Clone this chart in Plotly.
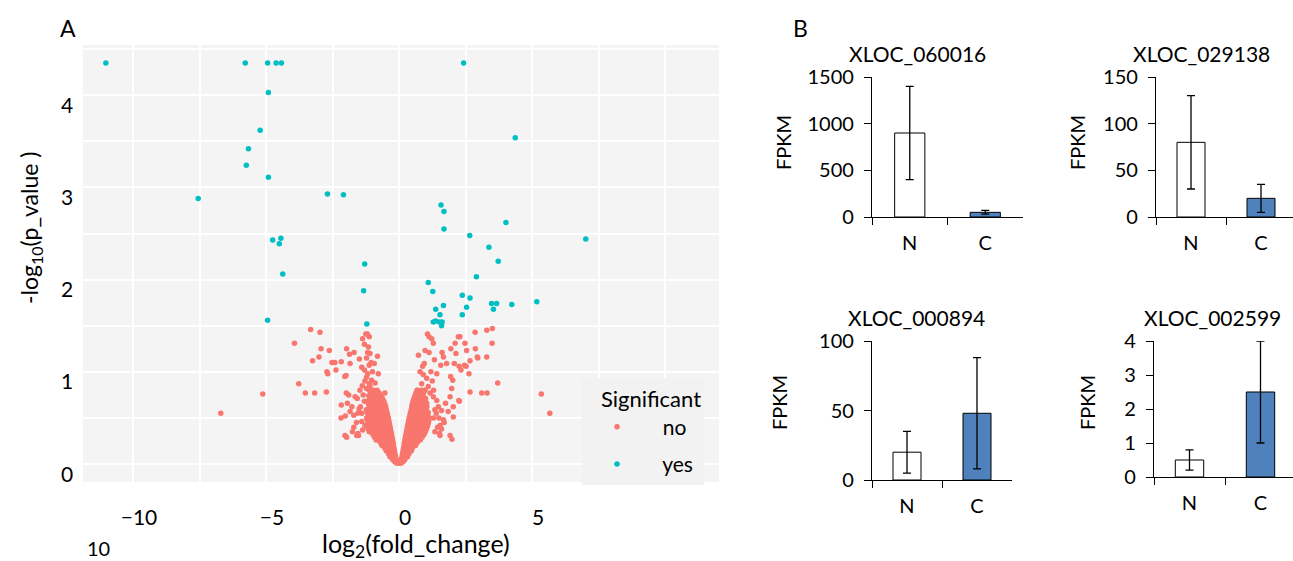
import plotly.graph_objects as go

W, H = 1293, 561

# ---------------- panel A: volcano plot ----------------
# significant genes: log2(fold_change), -log10(p_value)
sig_x = [-11.02, -5.78, -4.94, -4.62, -4.42, 2.43,
         -4.91, -5.22, 4.37, -5.66, -5.74, -4.91,
         -7.55, -2.69, -2.09, 1.58, 1.69, 1.69, 4.02,
         -4.75, -4.44, -4.50, 2.66, 7.02, 3.38, 3.73,
         -1.29, -4.37, 2.91, 1.10, 1.27, -1.33,
         2.38, 2.67, 3.48, 3.67, 3.55, 4.24, 5.18,
         1.67, 1.38, 2.54, 1.54, 2.38,
         1.29, 1.38, 1.52, 1.62, 1.60, -4.94, -1.21]
sig_y = [4.35, 4.35, 4.35, 4.35, 4.35, 4.35,
         4.03, 3.62, 3.54, 3.42, 3.24, 3.11,
         2.88, 2.93, 2.92, 2.81, 2.74, 2.55, 2.62,
         2.43, 2.45, 2.39, 2.48, 2.44, 2.35, 2.20,
         2.17, 2.06, 2.03, 1.97, 1.87, 1.88,
         1.83, 1.80, 1.74, 1.74, 1.68, 1.73, 1.76,
         1.72, 1.68, 1.70, 1.62, 1.62,
         1.54, 1.55, 1.54, 1.54, 1.50, 1.56, 1.52]

# non-significant genes, scattered ones (x, y)
no_scatter = [
    (-6.70, 0.55), (-5.12, 0.76), (-3.32, 1.46), (-2.97, 1.43), (-3.93, 1.31),
    (-2.93, 1.25), (-2.62, 1.23), (-3.25, 1.12), (-3.01, 1.16), (-2.49, 1.10),
    (-2.41, 1.10), (-2.17, 1.11), (-2.68, 0.98), (-2.37, 1.02), (-1.97, 1.25),
    (-1.69, 1.21), (-1.84, 1.09), (-1.49, 1.14), (-3.77, 0.87), (-3.52, 0.77),
    (-3.17, 0.77), (-2.73, 0.78), (-1.99, 0.96), (-2.04, 0.95), (-1.98, 0.77),
    (-1.89, 0.75), (-2.17, 0.64), (-1.94, 0.66), (-1.77, 0.62), (-2.18, 0.50),
    (-2.02, 0.52), (-1.84, 0.57), (-1.70, 0.53), (-1.55, 0.55), (-2.03, 0.31),
    (-1.97, 0.29), (-1.59, 0.31), (-1.52, 0.31), (-1.65, 0.73), (-1.57, 0.71),
    (-1.47, 0.80), (-1.38, 0.85), (-1.22, 0.82), (-1.09, 0.85), (-0.78, 0.98),
    (-0.93, 1.09), (-1.12, 1.07), (-0.81, 1.17), (-1.15, 1.27), (-1.18, 1.21),
    (-1.09, 1.20), (-1.19, 1.41), (-1.12, 1.38), (-1.37, 1.36), (-1.25, 1.41),
    (-1.30, 1.02), (-1.18, 0.98), (-1.22, 0.94), (-1.03, 0.91), (-1.12, 0.87),
    (-0.96, 0.80), (-0.84, 0.77), (-0.71, 0.73), (-0.53, 0.77), (-0.61, 0.67),
    (-1.40, 0.46), (-1.37, 0.37), (-1.28, 0.42), (-1.30, 1.30), (-1.22, 1.15),
    (-1.05, 1.10), (-1.40, 1.05), (-1.00, 1.00), (-0.90, 0.88), (-1.28, 0.90),
    (-1.35, 0.75), (-1.30, 0.68), (-1.45, 0.62), (-1.40, 0.55), (-2.71, 1.00),
    (-2.52, 1.10), (-1.86, 1.19), (-1.55, 0.33), (-1.60, 0.45), (-1.70, 0.40),
    (-1.50, 0.60), (-1.75, 0.35),
    (5.35, 0.76), (5.67, 0.55), (1.07, 1.41), (1.13, 1.38), (1.23, 1.36),
    (1.29, 1.31), (0.98, 1.23), (1.13, 1.21), (0.73, 1.18), (1.33, 1.13),
    (0.95, 1.09), (1.62, 1.21), (1.67, 1.16), (2.23, 1.38), (2.11, 1.31),
    (1.95, 1.25), (2.86, 1.43), (3.30, 1.45), (3.51, 1.47), (3.50, 1.31),
    (2.54, 1.23), (2.87, 1.25), (2.96, 1.15), (2.67, 1.12), (3.30, 1.16),
    (1.79, 1.09), (2.08, 1.09), (2.26, 1.06), (2.33, 1.02), (2.46, 1.07),
    (2.63, 0.98), (1.94, 0.95), (2.02, 0.91), (1.57, 1.07), (1.42, 0.98),
    (3.71, 0.88), (2.67, 0.78), (3.11, 0.77), (3.31, 0.77), (1.98, 0.82),
    (1.92, 0.73), (1.75, 0.66), (2.27, 0.68), (2.04, 0.62), (1.85, 0.57),
    (2.04, 0.51), (1.67, 0.48), (1.92, 0.31), (1.99, 0.27), (1.54, 0.31),
    (0.79, 1.00), (0.91, 0.97), (1.04, 0.93), (0.85, 0.87), (1.10, 0.84),
    (0.98, 0.80), (1.17, 0.77), (1.29, 0.73), (1.42, 0.69), (1.48, 0.62),
    (1.35, 0.59), (1.04, 0.66), (0.89, 1.06), (0.74, 0.73), (0.69, 0.80),
    (1.20, 1.00), (1.25, 0.90), (1.30, 0.80), (1.40, 0.55), (1.50, 0.50),
    (1.30, 0.50), (1.45, 0.40), (1.55, 0.42), (2.29, 1.38), (2.48, 1.31),
    (2.14, 1.20), (2.94, 1.16), (2.52, 1.06), (2.25, 0.69), (1.52, 0.33),
    (1.60, 0.58), (1.70, 0.45), (1.35, 0.35), (1.60, 0.38),
]

# non-significant genes, dense V core: (-log10 p, [log2 fc values on that row])
no_core_rows = [
    (0.01, [-0.10, -0.05, 0.00, 0.04, 0.09]),
    (0.03, [-0.18, -0.13, -0.06, 0.06, 0.12, 0.17]),
    (0.05, [-0.24, -0.17, -0.10, 0.08, 0.15, 0.22]),
    (0.08, [-0.34, -0.28, -0.20, -0.13, 0.11, 0.18, 0.26, 0.32]),
    (0.11, [-0.39, -0.31, -0.23, -0.15, 0.13, 0.21, 0.30, 0.37]),
    (0.14, [-0.48, -0.41, -0.33, -0.25, -0.17, 0.15, 0.23, 0.31, 0.40, 0.46]),
    (0.17, [-0.53, -0.44, -0.36, -0.27, -0.19, 0.17, 0.26, 0.34, 0.43, 0.50]),
    (0.20, [-0.64, -0.57, -0.48, -0.39, -0.30, -0.21, 0.19, 0.28, 0.37, 0.46, 0.55, 0.62]),
    (0.23, [-0.70, -0.61, -0.52, -0.42, -0.32, -0.22, 0.20, 0.30, 0.40, 0.50, 0.60, 0.68]),
    (0.26, [-0.86, -0.76, -0.66, -0.55, -0.45, -0.34, -0.24, 0.22, 0.32, 0.42, 0.53, 0.63, 0.72, 0.80]),
    (0.29, [-0.92, -0.80, -0.69, -0.58, -0.47, -0.36, -0.26, 0.24, 0.35, 0.45, 0.56, 0.67, 0.78, 0.87]),
    (0.32, [-0.98, -0.85, -0.73, -0.61, -0.50, -0.39, -0.28, 0.26, 0.37, 0.48, 0.60, 0.71, 0.83, 0.94]),
    (0.35, [-1.12, -1.03, -0.90, -0.77, -0.65, -0.53, -0.41, -0.30, 0.28, 0.40, 0.51, 0.63, 0.75, 0.88, 0.99]),
    (0.38, [-1.16, -1.06, -0.93, -0.80, -0.68, -0.56, -0.44, -0.32, 0.30, 0.42, 0.54, 0.66, 0.79, 0.92, 1.03]),
    (0.41, [-1.20, -1.10, -0.97, -0.84, -0.71, -0.58, -0.46, -0.34, 0.32, 0.44, 0.57, 0.70, 0.82, 0.95, 1.07]),
    (0.44, [-1.12, -1.00, -0.88, -0.75, -0.62, -0.49, -0.36, 0.34, 0.47, 0.60, 0.73, 0.86, 0.98, 1.10]),
    (0.47, [-1.18, -1.06, -0.93, -0.80, -0.66, -0.52, -0.38, 0.36, 0.50, 0.64, 0.77, 0.90, 1.02, 1.12]),
    (0.50, [-1.22, -1.10, -0.98, -0.85, -0.70, -0.55, -0.40, 0.38, 0.52, 0.67, 0.81, 0.94, 1.05, 1.15]),
    (0.53, [-1.15, -1.02, -0.88, -0.73, -0.58, -0.43, 0.41, 0.56, 0.70, 0.84, 0.97, 1.08]),
    (0.56, [-1.20, -1.06, -0.92, -0.76, -0.60, -0.45, 0.43, 0.58, 0.73, 0.87, 1.00, 1.10]),
    (0.59, [-1.23, -1.10, -0.95, -0.80, -0.63, -0.48, 0.46, 0.61, 0.76, 0.90, 1.03]),
    (0.62, [-1.12, -0.98, -0.82, -0.66, -0.50, 0.48, 0.63, 0.79, 0.93, 1.05]),
    (0.65, [-1.15, -1.01, -0.86, -0.70, -0.53, 0.50, 0.66, 0.82, 0.96]),
    (0.68, [-1.18, -1.05, -0.90, -0.74, -0.57, 0.53, 0.69, 0.85, 0.98]),
    (0.71, [-1.10, -0.95, -0.80, -0.62, 0.56, 0.72, 0.88, 1.00]),
    (0.74, [-1.14, -1.00, -0.86, -0.68, 0.60, 0.76, 0.90]),
    (0.77, [-1.06, -0.92, -0.75, 0.64, 0.80, 0.92]),
    (0.80, [-1.12, -0.98, -0.82, 0.68, 0.84, 0.95]),
]

volcano_xticks = [-10, -5, 0, 5]
volcano_yticks = [0, 1, 2, 3, 4]

no_x = [p[0] for p in no_scatter]
no_y = [p[1] for p in no_scatter]
for yv, xs in no_core_rows:
    no_x += xs
    no_y += [yv] * len(xs)

# ---------------- panel B: FPKM bar charts ----------------
genes = ["XLOC_060016", "XLOC_029138", "XLOC_000894", "XLOC_002599"]
groups = ["N", "C"]
fpkm_mean = [[900, 50], [80, 20], [20, 48], [0.5, 2.5]]
fpkm_err = [[500, 20], [50, 15], [15, 40], [0.3, 1.5]]
fpkm_max = [1500, 150, 100, 4]
fpkm_dtick = [500, 50, 50, 1]


def fx(px):
    return px / W


def fy(py):
    return 1 - py / H


fig = go.Figure()

fig.add_trace(go.Scatter(x=no_x, y=no_y, mode="markers", name="&nbsp;&nbsp;no",
                         legendgroup="no", marker=dict(color="#F8766D", size=5.5)))
fig.add_trace(go.Scatter(x=sig_x, y=sig_y, mode="markers", name="&nbsp;&nbsp;yes",
                         legendgroup="yes", marker=dict(color="#00BFC4", size=5.5)))

grid = dict(showgrid=True, gridcolor="white", gridwidth=2)
layout = dict(
    width=W, height=H,
    margin=dict(l=0, r=0, t=0, b=0, pad=0, autoexpand=False),
    paper_bgcolor="white",
    plot_bgcolor="rgba(0,0,0,0)",
    font=dict(family="Lato", color="black"),
    xaxis=dict(domain=[fx(83), fx(719)], range=[-11.88, 12.03],
               tickvals=volcano_xticks, ticks="", zeroline=False,
               minor=dict(dtick=2.5, tick0=0, **grid), **grid,
               tickfont=dict(size=21), ticklabelstandoff=21, ticklabelshift=6,
               anchor="y"),
    yaxis=dict(domain=[fy(482), fy(45)], range=[-0.195, 4.545],
               tickvals=volcano_yticks, ticks="", zeroline=False,
               showticklabels=False,
               minor=dict(dtick=0.5, tick0=0, **grid), **grid,
               anchor="x"),
    legend=dict(x=fx(582), y=fy(378), xanchor="left", yanchor="top",
                bgcolor="#F2F2F2", font=dict(size=21), itemwidth=60,
                tracegroupgap=7,
                title=dict(text="&nbsp;&nbsp;&nbsp;Significant", font=dict(size=22))),
    showlegend=True,
)

# px boxes of the four bar panels: (left, right, top, bottom), category width
boxes = [(872, 1023, 77, 217, 75.5), (1156, 1293, 77, 217, 70),
         (872, 1012, 341, 480, 70), (1154, 1293, 341, 477, 71)]
title_pos = [(917, 53), (1201, 53), (916, 317), (1212, 317)]
fpkm_pos = [(783, 143), (1077, 143), (779, 403), (1087, 403)]

annotations = []
for i, gene in enumerate(genes):
    n = i + 2
    left, right, top, bottom, cw = boxes[i]
    fig.add_trace(go.Bar(
        x=groups, y=fpkm_mean[i], width=0.4,
        marker=dict(color=["white", "#4F81BD"], line=dict(color="black", width=1)),
        error_y=dict(type="data", array=fpkm_err[i], color="black",
                     thickness=1.3, width=4),
        xaxis=f"x{n}", yaxis=f"y{n}", showlegend=False))
    layout[f"xaxis{n}"] = dict(
        domain=[fx(left), fx(right)], range=[-0.5, -0.5 + (right - left) / cw],
        type="category", showline=True, linecolor="black", linewidth=1.3,
        ticks="outside", tickson="boundaries", ticklen=7, tickcolor="black",
        tickwidth=1.3, showgrid=False, tickfont=dict(size=20),
        ticklabelstandoff=8, anchor=f"y{n}")
    layout[f"yaxis{n}"] = dict(
        domain=[fy(bottom), fy(top)], range=[0, fpkm_max[i]], dtick=fpkm_dtick[i],
        showline=True, linecolor="black", linewidth=1.3, ticks="outside",
        ticklen=7, tickcolor="black", tickwidth=1.3, showgrid=False,
        zeroline=False, tickfont=dict(size=20), ticklabelstandoff=6,
        anchor=f"x{n}")
    tx, ty = title_pos[i]
    annotations.append(dict(text=gene, x=fx(tx), y=fy(ty), font=dict(size=21)))
    px_, py_ = fpkm_pos[i]
    annotations.append(dict(text="FPKM", x=fx(px_), y=fy(py_), textangle=-90,
                            font=dict(size=20)))

annotations += [
    dict(text="A", x=fx(68), y=fy(28), font=dict(size=23)),
    dict(text="B", x=fx(800), y=fy(28), font=dict(size=23)),
    dict(text="10", x=fx(98), y=fy(548), font=dict(size=20)),
    dict(text="log<sub>2</sub>(fold_change)", x=fx(416), y=fy(545), font=dict(size=25)),
    dict(text="-log<sub>10</sub>(p_value )", x=fx(30), y=fy(228), textangle=-90,
         font=dict(size=23)),
]
for a in annotations:
    a.update(xref="paper", yref="paper", showarrow=False,
             xanchor="center", yanchor="middle")

# y tick labels of the volcano plot sit a little below their grid lines
for v in volcano_yticks:
    annotations.append(dict(text=str(v), x=fx(75), xref="paper", xanchor="right",
                            y=v, yref="y", yanchor="middle", yshift=-9,
                            showarrow=False, font=dict(size=21)))

layout["annotations"] = annotations
layout["shapes"] = [dict(type="rect", xref="x domain", yref="y domain", x0=0, x1=1,
                         y0=0, y1=1, fillcolor="#F4F4F4", line=dict(width=0),
                         layer="below")]
fig.update_layout(**layout)

fig.write_html("out.html", config={"displayModeBar": False},
               post_script="document.body.style.margin='0';"
                           "document.body.style.overflow='hidden';")
